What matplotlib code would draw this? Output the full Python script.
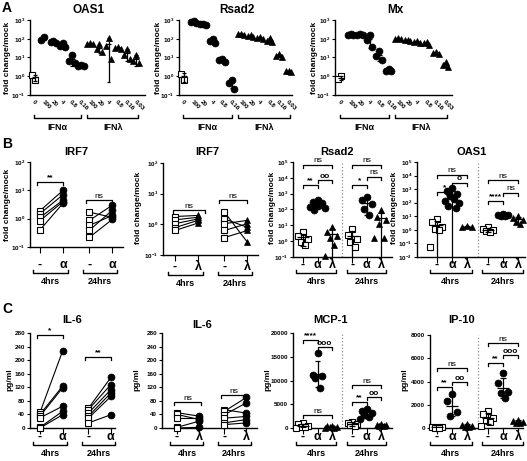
import numpy as np
import matplotlib.pyplot as plt

plt.rcParams['font.family'] = ['Liberation Sans', 'DejaVu Sans']
plt.rcParams['font.weight'] = 'bold'
plt.rcParams['mathtext.fontset'] = 'custom'
plt.rcParams['mathtext.rm'] = 'Liberation Sans'
plt.rcParams['mathtext.bf'] = 'Liberation Sans:bold'

# ---- A: dose response (fold change/mock) ----
doses = ['0', '100', '20', '4', '0.8', '0.16', '100', '20', '4', '0.8', '0.16', '0.03']

oas1_mock = [0.63, 1.1]
oas1_ifna = [[125, 90], [80, 70, 56], [63, 40, 35], [14, 6.3, 5], [4, 3.5, 3.5]]
oas1_ifnl = [[56, 52, 50], [50, 28, 20], [110, 40, 8], [35, 32, 28], [28, 14, 8], [14, 6.3, 5]]

rsad2_mock = [0.63, 1.4]
rsad2_ifna = [[850, 740, 700], [630, 600, 560], [95, 80, 63], [8.3, 7, 6], [0.62, 0.45, 0.22]]
rsad2_ifnl = [[190, 180, 165], [160, 140, 125], [125, 112, 100], [112, 80, 70], [16, 12.5, 11], [2, 1.8, 1.6]]

mx_mock = [1.0, 0.7]
mx_ifna = [[180, 160, 150], [180, 160, 155], [160, 90, 35], [22, 12.5, 7], [2.5, 2, 1.8]]
mx_ifnl = [[105, 100, 95], [90, 83, 80], [80, 70, 63], [70, 56, 45], [20, 18, 16], [5.6, 4, 3.2]]

# ---- B: fold change/mock ----
irf7a_mock4 = [1.9, 1.5, 1.1, 0.85, 0.4]
irf7a_ifna4 = [10, 7, 4.5, 4, 3.5]
irf7a_mock24 = [1.7, 0.87, 0.58, 0.39, 0.22]
irf7a_ifna24 = [1.1, 3.0, 1.3, 2.0, 0.95]

irf7l_mock4 = [1.8, 1.4, 1.05, 0.78, 0.63]
irf7l_ifnl4 = [1.95, 1.7, 1.5, 1.35, 1.1]
irf7l_mock24 = [2.5, 1.5, 1.05, 0.63, 0.37]
irf7l_ifnl24 = [0.26, 0.8, 1.35, 1.05, 0.63]

rsad2_mock4 = [3.8, 2.0, 1.45, 0.9, 0.55]
rsad2_ifna4 = [400, 300, 250, 200, 180, 150, 120, 90]
rsad2_ifnl4 = [8, 3.8, 2, 1.6, 0.55, 0.12]
rsad2_mock24 = [6.2, 2.3, 1.45, 0.9, 0.45]
rsad2_ifna24 = [620, 380, 230, 110, 43]
rsad2_ifnl24 = [98, 34, 21, 12.6, 1.6, 1.6]

oas1_mock4 = [6.6, 3.8, 1.6, 1.2, 0.9, 0.055]
oas1_ifna4 = [1200, 700, 450, 300, 200, 130, 90, 60, 40]
oas1_ifnl4 = [1.9, 1.7, 1.5]
oas1_mock24 = [1.5, 1.2, 1.0, 0.8, 0.7]
oas1_ifna24 = [15, 13, 12, 11, 10]
oas1_ifnl24 = [11, 8, 5, 3.5, 2.5]

# ---- C: pg/ml ----
il6a_mock4 = [46, 40, 35, 30, 2, 0]
il6a_ifna4 = [226, 123, 118, 64, 49, 39]
il6a_mock24 = [58, 54, 44, 35, 29, 15]
il6a_ifna24 = [149, 128, 113, 103, 93, 39]

il6l_mock4 = [45, 40, 30, 2, 0]
il6l_ifnl4 = [35, 25, 30, 20, 2]
il6l_mock24 = [54, 49, 39, 29, 15, 10]
il6l_ifnl24 = [44, 90, 74, 34, 25, 15]

mcp1_mock4 = [1100, 800, 500, 300, 200, 100]
mcp1_ifna4 = [15800, 11200, 10900, 10500, 8400]
mcp1_ifnl4 = [500, 350, 250, 150, 100, 50]
mcp1_mock24 = [1300, 1000, 800, 600, 400]
mcp1_ifna24 = [4100, 3600, 3100, 2700, 2300, 2000]
mcp1_ifnl24 = [900, 700, 550, 450, 350]

ip10_mock4 = [120, 80, 50, 30, 10]
ip10_ifna4 = [2900, 2300, 1400, 1000]
ip10_ifnl4 = [350, 250, 180, 120, 80]
ip10_mock24 = [1500, 1200, 900, 700, 500, 200]
ip10_ifna24 = [4700, 3900, 3100, 3000, 2600]
ip10_ifnl24 = [700, 600, 500, 450, 400]

W, H = 527, 461
fig = plt.figure(figsize=(W / 100, H / 100), dpi=100)
BOX = {}

SQ = dict(marker='s', ms=5, mfc='white', mec='black', mew=0.8, ls='none')
CI = dict(marker='o', ms=5, mfc='black', mec='black', mew=0.5, ls='none')
TR = dict(marker='^', ms=5, mfc='black', mec='black', mew=0.5, ls='none')
OFFS = np.array([0.0, -0.3, 0.3, -0.15, 0.15, -0.45, 0.45, -0.22, 0.22, -0.08, 0.08])
PAIR_X = [0, 1, 2.15, 3.15]
TRIO_X = [0, 1, 2, 3.4, 4.4, 5.4]


def new_ax(l, r, t, b, p0, step):
    ax = fig.add_axes([l / W, 1 - b / H, (r - l) / W, (b - t) / H])
    BOX[ax] = (t, b)
    ax.set_xlim((l - p0) / step, (r - p0) / step)
    ax.spines['top'].set_visible(False)
    ax.spines['right'].set_visible(False)
    ax.spines['left'].set_linewidth(1.0)
    ax.spines['bottom'].set_linewidth(1.0)
    ax.tick_params(axis='y', length=2.5, width=0.8, labelsize=4.5, pad=1)
    ax.tick_params(axis='x', length=4, width=0.8, labelsize=5, pad=1)
    return ax


def yf(ax, ypx):
    t, b = BOX[ax]
    return (b - ypx) / (b - t)


def log_y(ax, lo, hi):
    ax.set_yscale('log')
    ax.set_ylim(10.0 ** lo, 10.0 ** hi)
    ks = list(range(lo, hi + 1))
    ax.set_yticks([10.0 ** k for k in ks])
    ax.set_yticklabels([r'$\mathbf{10^{%d}}$' % k for k in ks])
    ax.yaxis.set_minor_locator(plt.NullLocator())


def lin_y(ax, top, step):
    ax.set_ylim(0, top)
    ax.set_yticks(np.arange(0, top + 1, step))


def atext(ax, x, ypx, s, size=6, weight='bold'):
    ax.text(x, yf(ax, ypx), s, transform=ax.get_xaxis_transform(), ha='center',
            va='center', fontsize=size, fontweight=weight, clip_on=False)


def under(ax, x0, x1, ypx, label, gap=8):
    t, b = BOX[ax]
    d = 3 / (b - t)
    y = yf(ax, ypx)
    ax.plot([x0, x0, x1, x1], [y + d, y, y, y + d], transform=ax.get_xaxis_transform(),
            color='black', lw=1, clip_on=False)
    atext(ax, (x0 + x1) / 2, ypx + gap, label, size=6.5)


def sig(ax, x0, x1, ypx, label):
    t, b = BOX[ax]
    d = 3 / (b - t)
    y = yf(ax, ypx)
    ax.plot([x0, x0, x1, x1], [y - d, y, y, y - d], transform=ax.get_xaxis_transform(),
            color='black', lw=0.9, clip_on=False)
    w = 'normal' if label == 'ns' else 'bold'
    ax.text((x0 + x1) / 2, y + 0.5 / (b - t), label, transform=ax.get_xaxis_transform(),
            ha='center', va='bottom', fontsize=6, fontweight=w, clip_on=False)


def group(ax, x, vals, mk, spread=1.0, bar=0.35, cap=0.18, floor=None):
    v = np.asarray(vals, dtype=float)
    ax.plot(x + OFFS[:len(v)] * spread, v, zorder=3, clip_on=False, **mk)
    m, sd = v.mean(), v.std(ddof=1)
    lo, hi = m - sd, m + sd
    kw = dict(color='black', lw=0.9, zorder=4, solid_capstyle='butt')
    if floor is not None and lo < floor:
        lo = floor
        low_cap = False
    else:
        low_cap = True
    ax.plot([x - bar, x + bar], [m, m], **kw)
    ax.plot([x, x], [lo, hi], **kw)
    ax.plot([x - cap, x + cap], [hi, hi], **kw)
    if low_cap:
        ax.plot([x - cap, x + cap], [lo, lo], **kw)


def pairs(ax, x0, x1, a, b, mk0, mk1):
    for ya, yb in zip(a, b):
        ax.plot([x0, x1], [ya, yb], color='black', lw=0.8, zorder=2, clip_on=False)
    ax.plot(np.full(len(a), x0), a, zorder=3, clip_on=False, **mk0)
    ax.plot(np.full(len(b), x1), b, zorder=3, clip_on=False, **mk1)


def ftext(x, y, s, size=8, rot=0, weight='bold'):
    fig.text(x / W, 1 - y / H, s, ha='center', va='center', fontsize=size,
             rotation=rot, fontweight=weight)


# ---------------- row A ----------------
def dose_panel(l, r, p0, step, title, tx, ylx, mock, ifna, ifnl):
    ax = new_ax(l, r, 20, 95, p0, step)
    log_y(ax, -1, 3)
    ax.set_xticks(np.arange(len(doses)))
    ax.set_xticklabels(doses, rotation=-45, ha='left', va='top',
                       rotation_mode='anchor', fontsize=4.5)
    ax.tick_params(axis='x', length=0, pad=3)
    group(ax, 0, mock, SQ, spread=1.0, bar=0.3, cap=0.2)
    for i, v in enumerate(ifna):
        group(ax, 1 + i, v, CI, spread=1.0, bar=0.3, cap=0.2)
    for i, v in enumerate(ifnl):
        group(ax, 6 + i, v, TR, spread=1.0, bar=0.3, cap=0.2)
    under(ax, -0.1, 5.0, 118, 'IFNα', gap=10)
    under(ax, 5.7, 11.2, 118, 'IFNλ', gap=10)
    ftext(tx, 10, title, size=8.5)
    ftext(ylx, 58, 'fold change/mock', size=6, rot=90)


dose_panel(30, 145, 35, 9.2, 'OAS1', 89, 8, oas1_mock, oas1_ifna, oas1_ifnl)
dose_panel(179, 292, 184, 9.5, 'Rsad2', 237, 158, rsad2_mock, rsad2_ifna, rsad2_ifnl)
dose_panel(335, 452, 341, 9.5, 'Mx', 395, 315, mx_mock, mx_ifna, mx_ifnl)

ftext(7, 8, 'A', size=10)
ftext(7, 144, 'B', size=10)
ftext(7, 309, 'C', size=10)


# ---------------- paired panels ----------------
def paired_panel(box, p0, step, sym, m4, t4, m24, t24, mk, ylab_row, sigs):
    l, r, t, b = box
    ax = new_ax(l, r, t, b, p0, step)
    ax.set_xticks(PAIR_X)
    ax.set_xticklabels([])
    pairs(ax, PAIR_X[0], PAIR_X[1], m4, t4, SQ, mk)
    pairs(ax, PAIR_X[2], PAIR_X[3], m24, t24, SQ, mk)
    lab_y, br_y = ylab_row
    for x, s in zip(PAIR_X, ['-', sym, '-', sym]):
        atext(ax, x, lab_y, s, size=9)
    under(ax, PAIR_X[0] - 0.3, PAIR_X[1] + 0.2, br_y, '4hrs')
    under(ax, PAIR_X[2] - 0.3, PAIR_X[3] + 0.2, br_y, '24hrs')
    for x0, x1, ypx, s in sigs:
        sig(ax, x0, x1, ypx, s)
    return ax


def trio_panel(box, p0, step, groups, ylab_row, sigs, floor=None):
    l, r, t, b = box
    ax = new_ax(l, r, t, b, p0, step)
    ax.set_xticks(TRIO_X)
    ax.set_xticklabels([])
    ax.axvline(2.7, color='0.55', ls=':', lw=0.9, zorder=1)
    for x, (vals, mk) in zip(TRIO_X, groups):
        group(ax, x, vals, mk, spread=1.1, bar=0.4, cap=0.2, floor=floor)
    lab_y, br_y = ylab_row
    for x, s in zip(TRIO_X, ['-', 'α', 'λ', '-', 'α', 'λ']):
        atext(ax, x, lab_y, s, size=9)
    under(ax, TRIO_X[0] - 0.5, TRIO_X[2] + 0.3, br_y, '4hrs')
    under(ax, TRIO_X[3] - 0.4, TRIO_X[5] + 0.35, br_y, '24hrs')
    for x0, x1, ypx, s in sigs:
        sig(ax, x0, x1, ypx, s)
    return ax


# ---------------- row B ----------------
brow = (265, 273)
ax = paired_panel((30, 123, 162, 247), 40, 23, 'α', irf7a_mock4, irf7a_ifna4,
                  irf7a_mock24, irf7a_ifna24, CI, brow,
                  [(-0.15, 1.0, 182, '**'), (2.0, 3.15, 200, 'ns')])
log_y(ax, -1, 2)
ftext(76, 152, 'IRF7')
ftext(8, 205, 'fold change/mock', size=6, rot=90)

ax = paired_panel((163, 258, 163, 255), 175, 23, 'λ', irf7l_mock4, irf7l_ifnl4,
                  irf7l_mock24, irf7l_ifnl24, TR, (267, 275),
                  [(-0.1, 1.3, 210, 'ns'), (1.9, 3.15, 200, 'ns')])
log_y(ax, -1, 2)
ftext(207, 152, 'IRF7')
ftext(138, 208, 'fold change/mock', size=6, rot=90)

ax = trio_panel((293, 392, 162, 257), 303, 14.5,
                [(rsad2_mock4, SQ), (rsad2_ifna4, CI), (rsad2_ifnl4, TR),
                 (rsad2_mock24, SQ), (rsad2_ifna24, CI), (rsad2_ifnl24, TR)],
                brow,
                [(0, 2, 165, 'ns'), (0, 1, 185, '**'), (1, 2, 180, 'oo'),
                 (3.4, 5.4, 165, 'ns'), (3.4, 4.4, 185, '*'), (4.4, 5.4, 177, 'ns')],
                floor=0.1)
log_y(ax, -1, 5)
ftext(337, 152, 'Rsad2')
ftext(273, 208, 'fold change/mock', size=6, rot=90)

ax = trio_panel((417, 525, 162, 257), 437, 15,
                [(oas1_mock4, SQ), (oas1_ifna4, CI), (oas1_ifnl4, TR),
                 (oas1_mock24, SQ), (oas1_ifna24, CI), (oas1_ifnl24, TR)],
                brow,
                [(0, 2, 175, 'ns'), (0, 1, 192, '*'), (1, 2, 183, 'o'),
                 (3.4, 5.4, 180, 'ns'), (3.4, 4.4, 201, '****'), (4.4, 5.4, 193, 'ns')],
                floor=0.01)
log_y(ax, -2, 5)
ftext(472, 152, 'OAS1')
ftext(395, 208, 'fold change/mock', size=6, rot=90)

# ---------------- row C ----------------
crow = (437, 445)
ax = paired_panel((30, 115, 333, 428), 40, 22.5, 'α', il6a_mock4, il6a_ifna4,
                  il6a_mock24, il6a_ifna24, CI, crow,
                  [(-0.15, 1.0, 335, '*'), (2.0, 3.15, 357, '**')])
lin_y(ax, 280, 40)
ftext(72, 320, 'IL-6')
ftext(10, 380, 'pg/ml', size=6, rot=90)

ax = paired_panel((162, 257, 333, 428), 177, 22, 'λ', il6l_mock4, il6l_ifnl4,
                  il6l_mock24, il6l_ifnl24, CI, crow,
                  [(-0.15, 1.1, 402, 'ns'), (2.0, 3.15, 395, 'ns')])
lin_y(ax, 280, 40)
ftext(202, 325, 'IL-6')
ftext(137, 380, 'pg/ml', size=6, rot=90)

ax = trio_panel((293, 392, 333, 428), 303, 14.5,
                [(mcp1_mock4, SQ), (mcp1_ifna4, CI), (mcp1_ifnl4, TR),
                 (mcp1_mock24, SQ), (mcp1_ifna24, CI), (mcp1_ifnl24, TR)],
                crow,
                [(0, 1, 340, '****'), (1, 2, 347, 'ooo'), (0, 2, 415, 'ns'),
                 (3.4, 5.4, 385, 'ns'), (3.4, 4.4, 402, '**'), (4.4, 5.4, 397, 'oo')])
lin_y(ax, 20000, 5000)
ftext(330, 320, 'MCP-1')
ftext(268, 380, 'pg/ml', size=6, rot=90)

ax = trio_panel((430, 523, 335, 428), 437, 15,
                [(ip10_mock4, SQ), (ip10_ifna4, CI), (ip10_ifnl4, TR),
                 (ip10_mock24, SQ), (ip10_ifna24, CI), (ip10_ifnl24, TR)],
                crow,
                [(0, 2, 368, 'ns'), (0, 1, 387, '**'), (1, 2, 382, 'oo'),
                 (3.4, 5.4, 343, 'ns'), (3.4, 4.4, 363, '**'), (4.4, 5.4, 355, 'ooo')])
lin_y(ax, 8000, 2000)
ftext(462, 320, 'IP-10')
ftext(405, 380, 'pg/ml', size=6, rot=90)

fig.savefig('out.png', dpi=100)
